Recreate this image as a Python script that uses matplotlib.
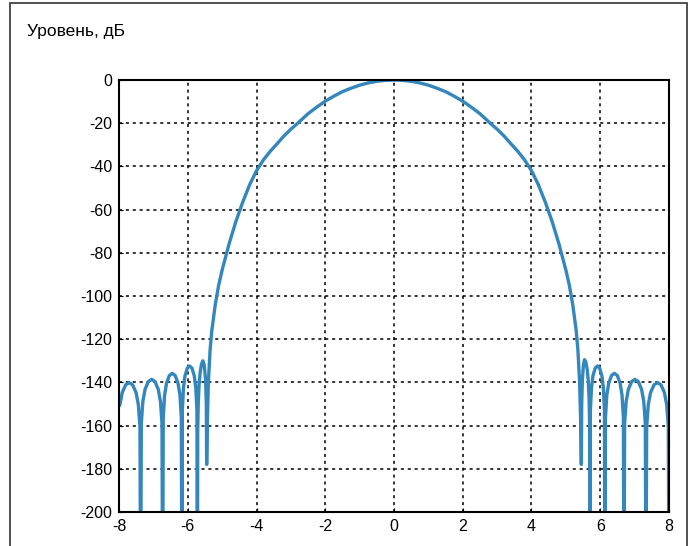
import numpy as np
import matplotlib
matplotlib.use('Agg')
import matplotlib.pyplot as plt
from matplotlib.patches import Rectangle

plt.rcParams['font.family'] = ['Liberation Sans Narrow', 'Liberation Sans', 'DejaVu Sans']
plt.rcParams['axes.unicode_minus'] = False

# главный лепесток (правая половина, симметричен)
main_x = [0, 0.25, 0.5, 0.75, 1.0, 1.25, 1.5, 1.75, 2.0, 2.25, 2.5, 2.8, 3.0, 3.2,
          3.4, 3.6, 3.8, 4.0, 4.2, 4.4, 4.6, 4.8, 5.0, 5.1, 5.2, 5.3, 5.35, 5.4, 5.43, 5.45]
main_db = [0, -0.15, -0.6, -1.35, -2.4, -3.8, -5.4, -7.5, -9.8, -12.6, -15.6, -20, -22.8, -25.9,
           -29.5, -33.0, -37.0, -42.0, -48.5, -56.5, -65.5, -76, -88, -95, -104, -116, -125, -140, -158, -178]

# боковые лепестки справа
right_x = [5.46, 5.48, 5.51, 5.54, 5.58, 5.62, 5.65, 5.675, 5.69, 5.70,
           5.713, 5.744, 5.787, 5.852, 5.918, 5.983, 6.048, 6.092, 6.122, 6.135,
           6.152, 6.19, 6.246, 6.329, 6.412, 6.496, 6.579, 6.634, 6.673, 6.69,
           6.709, 6.754, 6.818, 6.914, 7.01, 7.106, 7.202, 7.266, 7.311, 7.33,
           7.35, 7.397, 7.464, 7.565, 7.665, 7.766, 7.866, 7.933, 7.98, 8.0]
right_db = [-150, -139, -132, -129.5, -130.5, -134, -139, -147, -160, -250,
            -153, -142.6, -137, -133.4, -132.4, -133.4, -137, -142.6, -153, -250,
            -156.3, -146, -140.4, -136.8, -135.8, -136.8, -140.4, -146, -156.3, -250,
            -159, -148.8, -143.2, -139.6, -138.6, -139.6, -143.2, -148.8, -159, -250,
            -160.6, -150.3, -144.7, -141.1, -140.1, -141.1, -144.7, -150.3, -160.6, -250]

# боковые лепестки слева
left_x = [-5.46, -5.48, -5.52, -5.56, -5.60, -5.64, -5.67, -5.695, -5.71, -5.72,
          -5.733, -5.765, -5.81, -5.877, -5.945, -6.013, -6.08, -6.125, -6.157, -6.17,
          -6.187, -6.226, -6.282, -6.366, -6.45, -6.534, -6.618, -6.674, -6.713, -6.73,
          -6.749, -6.794, -6.858, -6.954, -7.05, -7.146, -7.242, -7.306, -7.351, -7.37,
          -7.39, -7.437, -7.504, -7.605, -7.705, -7.806, -7.906, -7.973, -8.0]
left_db = [-150, -139, -132, -130, -131.5, -135.5, -141, -150, -162, -250,
           -153, -142.6, -137, -133.4, -132.4, -133.4, -137, -142.6, -153, -250,
           -156.3, -146, -140.4, -136.8, -135.8, -136.8, -140.4, -146, -156.3, -250,
           -159, -148.8, -143.2, -139.6, -138.6, -139.6, -143.2, -148.8, -159, -250,
           -160.6, -150.3, -144.7, -141.1, -140.1, -141.1, -144.7, -150.3, -151]

xticks = list(range(-8, 9, 2))
yticks = list(range(-200, 1, 20))

# собираем кривую целиком
mx = np.array(main_x)
md = np.array(main_db)
x = np.concatenate([np.array(left_x)[::-1], -mx[::-1], mx[1:], right_x])
y = np.concatenate([np.array(left_db)[::-1], md[::-1], md[1:], right_db])

fig = plt.figure(figsize=(6.91, 5.46), dpi=100)
ax = fig.add_axes([119 / 691, 1 - 512 / 546, 550 / 691, 432 / 546])

ax.plot(x, y, color='#3487bd', lw=2.4, solid_joinstyle='round')

ax.set_xlim(-8, 8)
ax.set_ylim(-200, 0)
ax.set_xticks(xticks)
ax.set_yticks(yticks)
ax.set_xticklabels([str(v) for v in xticks])
ax.set_yticklabels([str(v) for v in yticks])
ax.tick_params(direction='in', length=3, labelsize=11.5, pad=5, colors='black')
ax.grid(True, color='black', linestyle=(0, (2, 2.5)), linewidth=1.1)
ax.set_axisbelow(True)
for s in ax.spines.values():
    s.set_linewidth(1.5)

# подпись оси и рамка
fig.text(27 / 691, 1 - 36 / 546, 'Уровень, дБ', fontsize=12.5, ha='left', va='baseline')
fig.patches.append(Rectangle((10 / 691, -0.05), 677 / 691, 1.05 - 3 / 546,
                             transform=fig.transFigure, fill=False, lw=1.2, ec='#333333'))

plt.savefig('out.png', dpi=100)
